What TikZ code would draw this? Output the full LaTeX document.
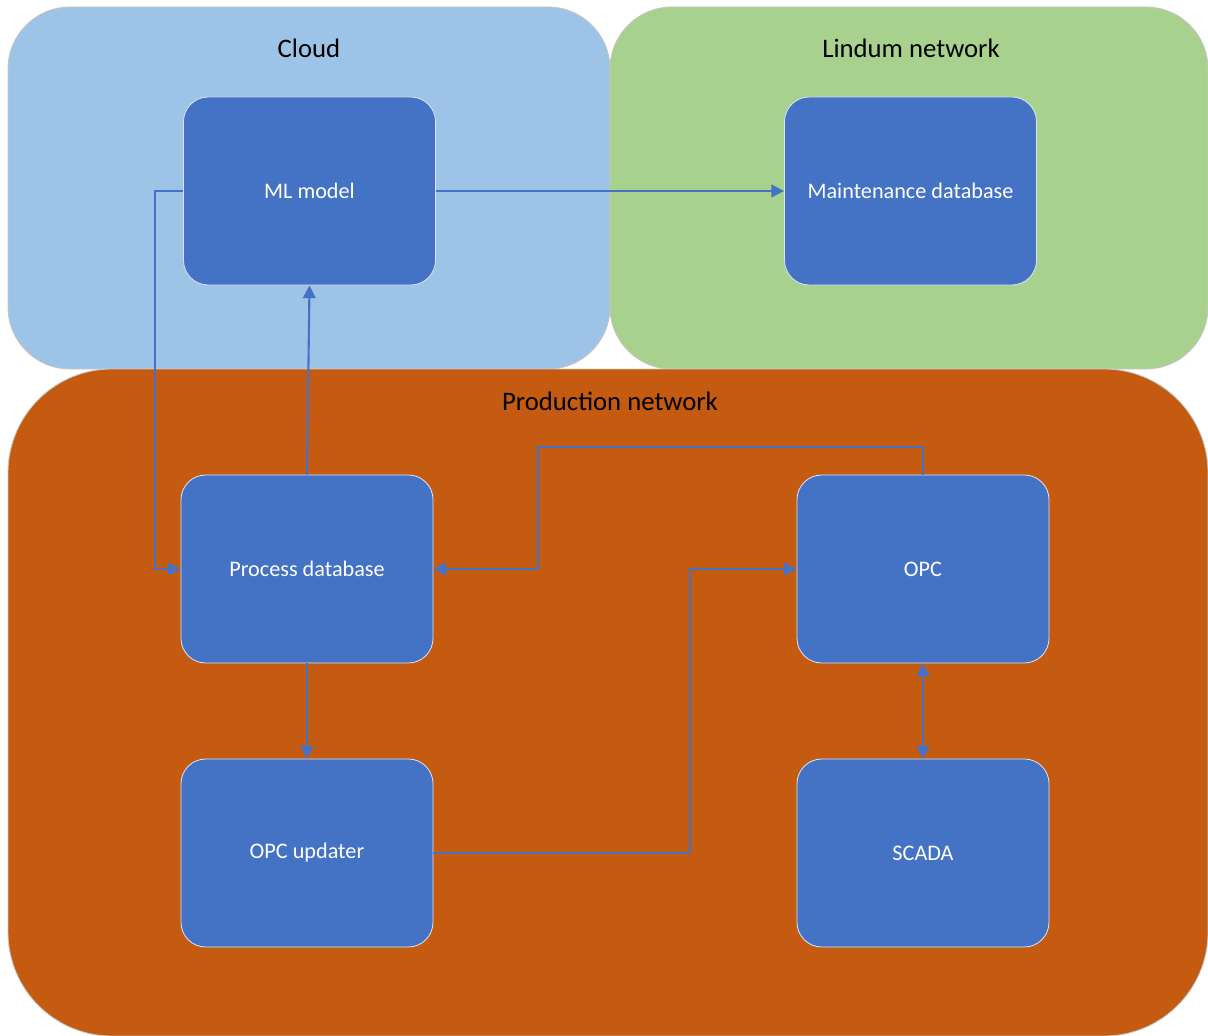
\documentclass[tikz,border=0pt]{standalone}
\usepackage{fontspec}
\setmainfont{Carlito}
\usetikzlibrary{arrows.meta}
\definecolor{cloudblue}{HTML}{9DC3E6}
\definecolor{lindumgreen}{HTML}{A9D18E}
\definecolor{prodorange}{HTML}{C55A11}
\definecolor{boxblue}{HTML}{4472C4}
\tikzset{
  zone/.style={draw=gray!45, line width=0.6pt},
  sysbox/.style={draw=white!80!boxblue, fill=boxblue, rounded corners=0.62cm,
    minimum width=6.3cm, minimum height=4.7cm, text=white,
    font=\fontsize{15.8}{18}\selectfont, line width=0.6pt},
  zonelabel/.style={font=\fontsize{19}{22}\selectfont, text=black},
  link/.style={draw=boxblue, line width=1.5pt, -{Triangle[length=9pt,width=9pt]}}
}
\begin{document}
\begin{tikzpicture}[x=0.025cm,y=-0.025cm]
  \useasboundingbox (0,0) rectangle (1208,1036);
  % zones
  \fill[white] (0,0) rectangle (1208,1036);
  \draw[zone,fill=cloudblue,rounded corners=1.55cm] (8,7) rectangle (610,369);
  \draw[zone,fill=lindumgreen,rounded corners=1.55cm] (610,7) rectangle (1208,369);
  \draw[zone,fill=prodorange,rounded corners=2.6cm] (8,369) rectangle (1208,1036);
  \node[zonelabel] (cloud) at (309,48) {Cloud};
  \node[zonelabel] (lindum) at (911,48) {Lindum network};
  \node[zonelabel] (prod) at (610,401) {Production network};

  % systems
  \node[sysbox] (ml) at (309.5,191) {ML model};
  \node[sysbox] (maint) at (910.5,191) {Maintenance database};
  \node[sysbox] (procdb) at (307,569) {Process database};
  \node[sysbox] (opc) at (923,569) {OPC};
  \node[sysbox] (updater) at (307,853) {OPC updater};
  \node[sysbox] (scada) at (923,853) {SCADA};

  % connections
  \draw[link] (ml.east) -- (maint.west);
  \draw[link] (ml.west) -- (155,191) -- (155,569) -- (procdb.west);
  \draw[link] (procdb.north) -- (ml.south);
  \draw[link] (procdb.south) -- (updater.north);
  \draw[link] (opc.north) -- (923,447) -- (538,447) -- (538,569) -- (procdb.east);
  \draw[link] (updater.east) -- (690,853) -- (690,569) -- (opc.west);
  \draw[link,{Triangle[length=9pt,width=9pt]}-{Triangle[length=9pt,width=9pt]}] (opc.south) -- (scada.north);
\end{tikzpicture}
\end{document}
